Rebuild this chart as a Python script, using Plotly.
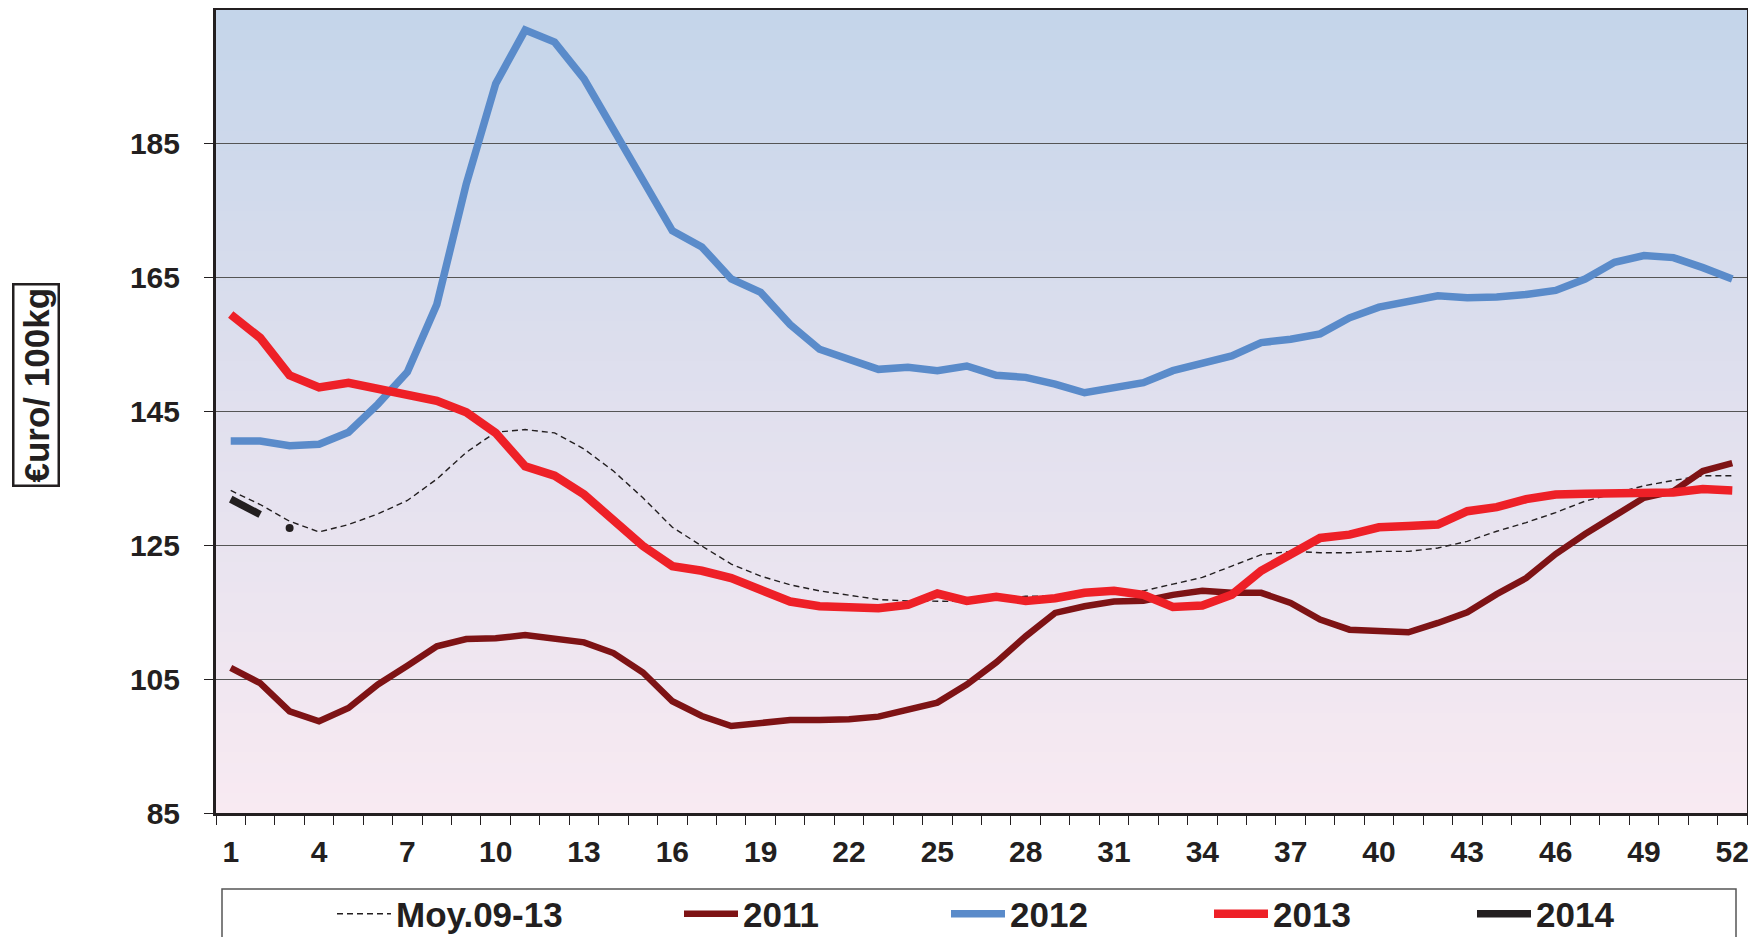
import plotly.graph_objects as go

weeks = list(range(1, 53))

moy_09_13 = [133.2, 131.1, 128.6, 127.0, 128.1, 129.7, 131.7, 134.9, 138.9, 141.9,
             142.3, 141.8, 139.4, 136.1, 132.1, 127.7, 124.9, 122.2, 120.4, 119.1,
             118.2, 117.6, 116.9, 116.7, 116.6, 116.6, 116.9, 117.4, 117.4, 117.7,
             117.9, 118.2, 119.2, 120.2, 121.9, 123.6, 124.1, 123.9, 123.9, 124.1,
             124.1, 124.6, 125.6, 127.1, 128.4, 129.9, 131.6, 132.7, 133.9, 134.7,
             135.4, 135.4]

y2011 = [106.7, 104.4, 100.2, 98.7, 100.7, 104.2, 107.0, 109.9, 111.0, 111.1,
         111.6, 111.0, 110.5, 108.9, 106.0, 101.7, 99.5, 98.0, 98.5, 98.9,
         98.9, 99.0, 99.4, 100.4, 101.5, 104.2, 107.5, 111.4, 114.9, 115.9,
         116.6, 116.7, 117.6, 118.2, 117.9, 117.9, 116.4, 113.9, 112.4, 112.2,
         112.0, 113.4, 115.0, 117.7, 120.1, 123.7, 126.7, 129.4, 132.1, 133.1,
         136.1, 137.3]

y2012 = [140.6, 140.6, 139.9, 140.1, 141.9, 146.1, 150.9, 161.0, 179.0, 194.0,
         202.0, 200.2, 194.7, 187.0, 179.2, 172.0, 169.6, 164.8, 162.8, 158.0,
         154.3, 152.9, 151.3, 151.6, 151.1, 151.8, 150.4, 150.1, 149.1, 147.8,
         148.6, 149.3, 151.1, 152.1, 153.3, 155.3, 155.8, 156.6, 159.0, 160.6,
         161.5, 162.3, 162.0, 162.1, 162.5, 163.1, 164.8, 167.3, 168.3, 168.0,
         166.5, 164.8]

y2013 = [159.5, 156.0, 150.4, 148.6, 149.3, 148.4, 147.6, 146.6, 144.9, 141.8,
         136.8, 135.4, 132.6, 128.6, 124.9, 121.9, 121.2, 120.1, 118.2, 116.6,
         115.9, 115.9, 115.6, 116.1, 117.8, 116.7, 117.3, 116.7, 117.1, 117.9,
         118.2, 117.6, 115.8, 116.0, 117.6, 121.2, 123.7, 126.1, 126.6, 127.7,
         127.9, 128.1, 130.1, 130.7, 131.9, 132.6, 132.7, 132.7, 132.6, 132.9,
         133.4, 133.2]

y2014 = [131.9, 129.6, 127.6]

x_tick_labels = [str(w) for w in range(1, 53, 3)]
y_tick_values = [85, 105, 125, 145, 165, 185]

C2011 = "#7e1315"
C2012 = "#5a8bca"
C2013 = "#ee2027"
CBLK = "#231f20"
SANS = "Liberation Sans, Arial, sans-serif"

# page body has an 8px margin: figure sized so that it ends at the window edge
W, H = 1748, 929
ML, MR, MT, MB = 208, 9, 2, 124
PW = W - ML - MR          # plot width in px
PH = H - MT - MB          # plot height in px

def px_x(fx):             # figure px -> paper x
    return (fx - ML) / PW

def px_y(fy):             # figure px -> paper y
    return (H - MB - fy) / PH

fig = go.Figure()

fig.add_trace(go.Scatter(x=weeks, y=moy_09_13, mode="lines", name="Moy.09-13",
                         line=dict(color=CBLK, width=1.4, dash="6px,4px"),
                         legend="legend"))
fig.add_trace(go.Scatter(x=weeks, y=y2011, mode="lines", name="2011",
                         line=dict(color=C2011, width=6.5), legend="legend2"))
fig.add_trace(go.Scatter(x=weeks, y=y2012, mode="lines", name="2012",
                         line=dict(color=C2012, width=7.5), legend="legend3"))
fig.add_trace(go.Scatter(x=weeks, y=y2013, mode="lines", name="2013",
                         line=dict(color=C2013, width=8.5), legend="legend4"))
fig.add_trace(go.Scatter(x=weeks[:2], y=y2014[:2], mode="lines", name="2014",
                         line=dict(color=CBLK, width=7.5), legend="legend5"))
fig.add_trace(go.Scatter(x=weeks[2:3], y=y2014[2:3], mode="markers", name="2014",
                         marker=dict(color=CBLK, size=8), showlegend=False))

# background gradient bands (plot area)
def lerp(c1, c2, t):
    return tuple(round(a + (b - a) * t) for a, b in zip(c1, c2))

top = (196, 213, 234)
mid = (225, 224, 238)
bot = (248, 234, 242)
N = 80
shapes = []
for i in range(N):
    t = (i + 0.5) / N  # 0 bottom -> 1 top
    if t < 0.5:
        c = lerp(bot, mid, t / 0.5)
    else:
        c = lerp(mid, top, (t - 0.5) / 0.5)
    shapes.append(dict(type="rect", xref="paper", yref="paper",
                       x0=0, x1=1, y0=i / N, y1=(i + 1) / N + 0.002,
                       fillcolor="rgb(%d,%d,%d)" % c, line=dict(width=0),
                       layer="below"))

# legend frame
shapes.append(dict(type="rect", xref="paper", yref="paper",
                   x0=px_x(214), x1=px_x(1728), y0=px_y(945), y1=px_y(881),
                   line=dict(color="#555555", width=1.5), fillcolor="rgba(0,0,0,0)"))

legend_common = dict(orientation="h", xref="container", yref="container",
                     xanchor="left", yanchor="middle",
                     font=dict(family=SANS, size=35, color=CBLK, weight="bold"),
                     bgcolor="rgba(0,0,0,0)", itemwidth=54)
legend_starts = [336, 683, 950, 1213, 1476]   # page px of legend samples
ly = (H - (914 - 8)) / H
legends = {}
for i, xs in enumerate(legend_starts):
    key = "legend" if i == 0 else "legend%d" % (i + 1)
    legends[key] = dict(legend_common, x=(xs - 8 - 4) / W, y=ly)

fig.update_layout(
    width=W, height=H,
    margin=dict(l=ML, r=MR, t=MT, b=MB, autoexpand=False),
    paper_bgcolor="white",
    plot_bgcolor="rgb(225,224,238)",
    shapes=shapes,
    showlegend=True,
    xaxis=dict(range=[0.5, 52.5], tickmode="array",
               tickvals=list(range(1, 53, 3)), ticktext=x_tick_labels,
               ticks="", showgrid=False, zeroline=False,
               showline=True, linecolor=CBLK, linewidth=3, mirror=True,
               tickfont=dict(family=SANS, size=30, color=CBLK, weight="bold"),
               ticklabelstandoff=10,
               minor=dict(tickvals=[0.5 + i for i in range(53)], ticks="outside",
                          ticklen=9, tickwidth=1, tickcolor=CBLK, showgrid=False)),
    yaxis=dict(range=[85, 205], tickmode="array", tickvals=y_tick_values,
               ticks="outside", ticklen=9, tickwidth=1, tickcolor=CBLK,
               showgrid=True, gridcolor="#555555", gridwidth=1.3,
               zeroline=False, showline=True, linecolor=CBLK, linewidth=3, mirror=True,
               tickfont=dict(family=SANS, size=30, color=CBLK, weight="bold"),
               ticklabelstandoff=18),
    annotations=[dict(text="<b>€uro/ 100kg</b>", xref="paper", yref="paper",
                      x=px_x(36 - 8), y=px_y(385 - 8),
                      xanchor="center", yanchor="middle",
                      textangle=-90, showarrow=False,
                      font=dict(family=SANS, size=35, color=CBLK),
                      bordercolor=CBLK, borderwidth=2.5, borderpad=2)],
    **legends,
)

fig.write_html("out.html")
